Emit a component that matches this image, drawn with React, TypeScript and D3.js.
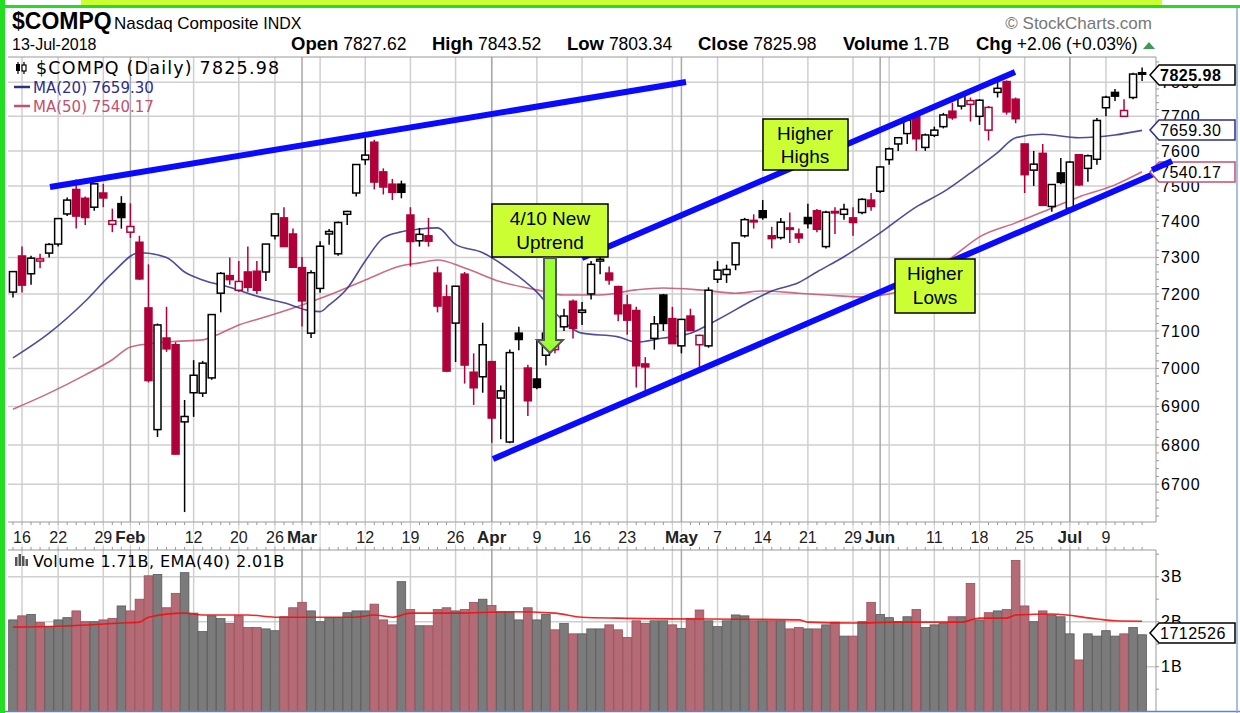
import React from 'react';
import * as d3 from 'd3';

// ---------------- DATA ----------------
const dates = [
  '2018-01-12','2018-01-16','2018-01-17','2018-01-18','2018-01-19','2018-01-22','2018-01-23','2018-01-24','2018-01-25','2018-01-26','2018-01-29','2018-01-30','2018-01-31',
  '2018-02-01','2018-02-02','2018-02-05','2018-02-06','2018-02-07','2018-02-08','2018-02-09','2018-02-12','2018-02-13','2018-02-14','2018-02-15','2018-02-16','2018-02-20','2018-02-21','2018-02-22','2018-02-23','2018-02-26','2018-02-27','2018-02-28',
  '2018-03-01','2018-03-02','2018-03-05','2018-03-06','2018-03-07','2018-03-08','2018-03-09','2018-03-12','2018-03-13','2018-03-14','2018-03-15','2018-03-16','2018-03-19','2018-03-20','2018-03-21','2018-03-22','2018-03-23','2018-03-26','2018-03-27','2018-03-28','2018-03-29',
  '2018-04-02','2018-04-03','2018-04-04','2018-04-05','2018-04-06','2018-04-09','2018-04-10','2018-04-11','2018-04-12','2018-04-13','2018-04-16','2018-04-17','2018-04-18','2018-04-19','2018-04-20','2018-04-23','2018-04-24','2018-04-25','2018-04-26','2018-04-27','2018-04-30',
  '2018-05-01','2018-05-02','2018-05-03','2018-05-04','2018-05-07','2018-05-08','2018-05-09','2018-05-10','2018-05-11','2018-05-14','2018-05-15','2018-05-16','2018-05-17','2018-05-18','2018-05-21','2018-05-22','2018-05-23','2018-05-24','2018-05-25','2018-05-29','2018-05-30','2018-05-31',
  '2018-06-01','2018-06-04','2018-06-05','2018-06-06','2018-06-07','2018-06-08','2018-06-11','2018-06-12','2018-06-13','2018-06-14','2018-06-15','2018-06-18','2018-06-19','2018-06-20','2018-06-21','2018-06-22','2018-06-25','2018-06-26','2018-06-27','2018-06-28','2018-06-29',
  '2018-07-02','2018-07-03','2018-07-05','2018-07-06','2018-07-09','2018-07-10','2018-07-11','2018-07-12','2018-07-13',
];
const opens = [
  7205,7304,7255,7290,7312,7337,7421,7490,7465,7440,7480,7392,7450,
  7370,7342,7162,6840,7081,7063,6860,6936,6935,6975,7202,7250,7210,7260,7262,7260,7360,7410,7365,
  7272,7094,7215,7365,7310,7420,7480,7575,7625,7540,7505,7505,7418,7346,7360,7257,7192,7121,7254,6990,6978,
  7018,6922,6808,7094,7001,6972,7035,7050,7111,7180,7150,7200,7290,7257,7220,7170,7155,7012,7080,7197,7133,
  7060,7140,7063,7060,7240,7253,7280,7360,7400,7430,7360,7355,7380,7365,7411,7430,7330,7428,7420,7410,7425,7460,
  7485,7575,7620,7650,7700,7610,7645,7670,7715,7730,7735,7700,7660,7770,7802,7750,7620,7545,7593,7442,7537,
  7437,7589,7550,7576,7725,7770,7700,7755,7828,
];
const highs = [
  7262,7330,7305,7310,7340,7410,7467,7518,7470,7506,7506,7436,7471,
  7451,7360,7281,7120,7165,7070,6917,7022,7020,7145,7260,7300,7290,7330,7290,7337,7422,7440,7380,
  7301,7265,7345,7379,7400,7430,7561,7637,7632,7550,7520,7515,7440,7382,7410,7275,7225,7222,7260,7040,7122,
  7018,6955,7050,7111,7010,7076,7112,7110,7160,7185,7178,7290,7310,7275,7222,7198,7165,7030,7140,7200,7165,
  7131,7160,7090,7218,7290,7280,7342,7410,7420,7460,7385,7410,7425,7380,7450,7435,7430,7440,7450,7440,7465,7480,
  7556,7610,7640,7695,7702,7650,7670,7710,7740,7765,7755,7750,7730,7806,7805,7755,7620,7600,7620,7505,7580,
  7570,7590,7590,7695,7760,7780,7750,7828,7843.52,
];
const lows = [
  7190,7204,7225,7270,7300,7330,7415,7380,7390,7430,7440,7370,7380,
  7354,7238,6963,6821,7044,6776,6630,6873,6925,6970,7150,7225,7205,7206,7200,7235,7350,7330,7273,
  7112,7081,7203,7335,7305,7390,7470,7560,7490,7476,7460,7465,7275,7330,7330,7150,6990,7017,6960,6904,6936,
  6806,6815,6805,7048,6875,6945,7008,7040,7100,7080,7116,7185,7254,7225,7126,7090,6950,6940,7050,7100,7065,
  7040,7100,7000,7055,7230,7230,7265,7355,7380,7405,7325,7350,7340,7340,7380,7370,7325,7365,7405,7360,7420,7430,
  7480,7560,7600,7620,7600,7600,7640,7665,7690,7720,7685,7675,7630,7755,7705,7680,7480,7500,7445,7427,7505,
  7430,7500,7512,7560,7700,7745,7700,7750,7803.34,
];
const closes = [
  7261,7224,7298,7296,7336,7408,7460,7415,7411,7506,7466,7402,7411,
  7386,7241,6968,7116,7052,6777,6874,6982,7014,7144,7256,7239,7234,7218,7210,7337,7421,7330,7273,
  7181,7258,7331,7372,7397,7428,7561,7588,7511,7497,7482,7482,7344,7364,7345,7167,6993,7221,7009,6949,7063,
  6870,6941,7042,7077,6915,6950,7094,7069,7140,7107,7156,7281,7295,7238,7146,7129,7007,7004,7119,7120,7066,
  7131,7101,7088,7210,7265,7267,7340,7405,7403,7411,7352,7398,7382,7354,7394,7378,7426,7424,7434,7397,7462,7442,
  7554,7606,7638,7689,7635,7646,7660,7704,7696,7761,7746,7747,7726,7782,7713,7693,7532,7562,7445,7504,7510,
  7568,7503,7586,7688,7756,7759,7717,7824,7825.98,
];
// volume in billions
const volumes = [
  2.04,2.13,2.16,1.98,1.89,2.04,2.09,2.24,2.00,2.00,2.04,2.07,2.35,
  2.24,2.50,3.02,3.05,2.31,2.63,3.09,2.19,1.78,2.13,2.07,1.96,2.13,1.87,1.87,1.84,1.80,2.11,2.31,
  2.43,2.24,2.00,2.09,2.09,2.20,2.24,2.24,2.39,2.04,1.93,2.89,2.27,1.91,1.91,2.27,2.31,2.24,2.27,2.43,2.50,
  2.36,2.22,2.21,2.04,2.31,2.04,2.16,1.82,1.96,1.73,1.73,1.84,1.84,1.93,1.82,1.65,2.02,1.96,2.02,2.02,1.93,
  1.85,2.07,2.26,2.02,1.89,2.02,2.15,2.13,2.02,2.02,2.02,2.02,1.84,1.87,1.84,1.84,1.93,1.99,1.68,1.68,2.00,2.43,
  2.16,2.09,2.00,2.11,2.27,1.87,1.93,1.96,2.11,2.11,2.85,2.04,2.20,2.24,2.27,3.36,2.35,2.00,2.24,2.15,2.11,
  1.73,1.15,1.73,1.68,1.80,1.68,1.73,1.87,1.71,
];
// moving averages: [trading-day index (0 = Jan 16), value]
const ma20Day = [-1,3,7,10,13,16,18,20,23,26,29,32,33,34,36,38,40,42,44,46,48,51,54,57,59,62,66,68,71,74,77,81,83,86,88,91,95,99,102,105,108,110,113,117,121,124];
const ma20Val = [7028,7094,7180,7257,7313,7300,7260,7238,7218,7194,7176,7154,7152,7170,7215,7290,7354,7371,7379,7382,7336,7313,7266,7205,7149,7094,7084,7070,7081,7094,7130,7184,7208,7231,7260,7302,7368,7441,7483,7537,7595,7638,7648,7638,7646,7659.3];
const ma50Day = [-1,3,7,10,12,15,17,20,22,24,27,31,34,38,42,44,46,49,53,57,60,64,68,71,75,79,82,86,89,93,96,103,106,110,113,117,121,124];
const ma50Val = [6893,6935,6983,7023,7057,7068,7072,7076,7094,7116,7138,7170,7197,7238,7277,7285,7293,7271,7233,7211,7197,7197,7211,7216,7211,7202,7208,7202,7197,7192,7200,7301,7357,7396,7427,7469,7503,7540.17];
const emaDay = [-1,4,11,13,14,18,20,25,28,37,39,41,43,48,54,59,62,66,86,87,92,97,104,106,109,110,114,119,121,124];
const emaVal = [1.88,1.90,1.97,1.99,2.10,2.19,2.15,2.15,2.10,2.10,2.15,2.10,2.19,2.19,2.22,2.19,2.10,2.08,2.04,1.99,1.97,1.99,1.99,2.08,2.08,2.15,2.17,2.06,2.02,2.01];

const priceTicks = [6700,6800,6900,7000,7100,7200,7300,7400,7500,7600,7700,7800];
const volTicks = [1,2,3];
const volTickLabels = ['1B','2B','3B'];
const xLabelDates = ['2018-01-16','2018-01-22','2018-01-29','2018-02-01','2018-02-12','2018-02-20','2018-02-26','2018-03-01','2018-03-12','2018-03-19','2018-03-26','2018-04-02','2018-04-09','2018-04-16','2018-04-23','2018-05-01','2018-05-07','2018-05-14','2018-05-21','2018-05-29','2018-06-01','2018-06-11','2018-06-18','2018-06-25','2018-07-02','2018-07-09'];
const xLabelTexts = ['16','22','29','Feb','12','20','26','Mar','12','19','26','Apr','9','16','23','May','7','14','21','29','Jun','11','18','25','Jul','9'];
const headerLabels = ['Open','High','Low','Close','Volume','Chg'];
const headerValues = ['7827.62','7843.52','7803.34','7825.98','1.7B','+2.06 (+0.03%)'];

// ---------------- LAYOUT ----------------
const W = 1240, H = 713;
const PX0 = 8, PX1 = 1156;
const PT = 57, PB = 522;
const VT = 550, VB = 712;
const headerX = [291, 432, 567, 698, 843, 976];

const RED = '#b0003a';
const NAVY = '#2e2e8a';
const MA50C = '#c4506e';
const BLUE = '#0a0aff';
const BOXFILL = '#ccff33';

export default function App() {
  const n = dates.length;
  const idx = (k: number) => k - 1; // array position -> trading-day index (Jan 16 = 0)
  const x = d3.scaleLinear().domain([-1, 124]).range([12.97, 1142.1]);
  const y = d3.scaleLog().domain([6700, 7800]).range([484.3, 82.2]);
  const yv = d3.scaleLinear().domain([0, 3]).range([711.7, 576.7]);

  const parsed = dates.map((d) => new Date(d + 'T00:00:00Z'));
  const weekStarts: number[] = [];
  const monthStarts: number[] = [];
  for (let k = 1; k < n; k++) {
    if (parsed[k].getUTCMonth() !== parsed[k - 1].getUTCMonth()) monthStarts.push(k);
    if (parsed[k].getUTCDay() < parsed[k - 1].getUTCDay() || (parsed[k].getTime() - parsed[k - 1].getTime()) > 3 * 86400000 || k === 1) weekStarts.push(k);
  }

  const ma20Line = d3.line<number>().x((_, j) => x(ma20Day[j])).y((v) => y(v)).curve(d3.curveMonotoneX)(ma20Val) || '';
  const ma50Line = d3.line<number>().x((_, j) => x(ma50Day[j])).y((v) => y(v)).curve(d3.curveMonotoneX)(ma50Val) || '';
  const emaLine = d3.line<number>().x((_, j) => x(emaDay[j])).y((v) => yv(v)).curve(d3.curveMonotoneX)(emaVal) || '';

  const font = "'Liberation Sans', Arial, sans-serif";
  const vfont = "'DejaVu Sans', Verdana, sans-serif";

  const labelBox = (yc: number, text: string, stroke: string, bold: boolean, x0 = 1150, x1 = 1235) => (
    <g>
      <path d={`M${x0},${yc} L${x0 + 9},${yc - 10} L${x1},${yc - 10} L${x1},${yc + 10} L${x0 + 9},${yc + 10} Z`} fill="#fff" stroke={stroke} strokeWidth={1.5} />
      <text x={x0 + 10} y={yc} dy="0.36em" fontFamily={font} fontSize={16} fontWeight={bold ? 'bold' : 'normal'} letterSpacing={0.5} fill="#000">{text}</text>
    </g>
  );

  return (
    <svg width={W} height={H} style={{ position: 'absolute', left: 0, top: 0, background: '#fff' }} xmlns="http://www.w3.org/2000/svg">
      <defs>
        <clipPath id="pclip"><rect x={PX0} y={PT} width={PX1 - PX0} height={PB - PT} /></clipPath>
        <clipPath id="vclip"><rect x={PX0} y={VT} width={PX1 - PX0} height={VB - VT} /></clipPath>
      </defs>
      <rect x={0} y={0} width={W} height={H} fill="#fff" />

      {/* header */}
      <text x={12} y={29} fontFamily={font} fontSize={23} fontWeight="bold">$COMPQ</text>
      <text x={114} y={29} fontFamily={font} fontSize={17}>Nasdaq Composite <tspan fontSize={16}>INDX</tspan></text>
      <text x={12} y={50} fontFamily={font} fontSize={16}>13-Jul-2018</text>
      <text x={1152} y={29} fontFamily={font} fontSize={17} fill="#777" textAnchor="end">© StockCharts.com</text>
      {headerLabels.map((lab, j) => (
        <text key={'h' + j} x={headerX[j]} y={50} fontFamily={font} fontSize={17.5}>
          <tspan fontWeight="bold" fontSize={18.5}>{lab}</tspan> {headerValues[j]}
        </text>
      ))}
      <path d="M1143,49 L1149,42 L1155,49 Z" fill="#3f9a55" />

      {/* price panel grid */}
      <g clipPath="url(#pclip)">
        {priceTicks.map((p) => (
          <line key={p} x1={PX0} x2={PX1} y1={y(p)} y2={y(p)} stroke="#cfcfcf" strokeWidth={1.5} />
        ))}
        {weekStarts.map((k) => (
          <line key={'w' + k} x1={x(idx(k))} x2={x(idx(k))} y1={PT} y2={PB} stroke="#cfcfcf" strokeWidth={1.5} />
        ))}
        {monthStarts.map((k) => (
          <line key={'m' + k} x1={x(idx(k))} x2={x(idx(k))} y1={PT} y2={PB} stroke="#a8a8a8" strokeWidth={1.5} />
        ))}
      </g>
      <line x1={PX0} x2={PX1} y1={PT} y2={PT} stroke="#999" />
      <line x1={PX0} x2={PX1} y1={PB} y2={PB} stroke="#999" />
      <line x1={PX1} x2={PX1} y1={PT} y2={PB} stroke="#999" />
      {d3.range(6620, 7880, 20).map((p) => (
        <line key={'mt' + p} x1={PX1} x2={PX1 + 3} y1={y(p)} y2={y(p)} stroke="#999" />
      ))}
      {priceTicks.map((p) => (
        <text key={'pl' + p} x={1161} y={y(p)} dy="0.36em" fontFamily={font} fontSize={16} letterSpacing={1}>{p}</text>
      ))}

      {/* moving averages and candles */}
      <g clipPath="url(#pclip)">
        <path d={ma50Line} fill="none" stroke={MA50C} strokeWidth={1.6} strokeOpacity={0.85} />
        <path d={ma20Line} fill="none" stroke={NAVY} strokeWidth={1.6} strokeOpacity={0.85} />
        {dates.map((d, k) => {
          const o = opens[k], h = highs[k], l = lows[k], c = closes[k];
          const prev = k > 0 ? closes[k - 1] : c - 1;
          const col = c >= prev ? '#000' : RED;
          const hollow = c >= o;
          const cx = x(idx(k));
          const top = y(Math.max(o, c));
          const bh = Math.max(1.5, Math.abs(y(o) - y(c)));
          return (
            <g key={d}>
              <line x1={cx} x2={cx} y1={y(h)} y2={y(l)} stroke={col} strokeWidth={1.5} />
              <rect x={cx - 3.5} y={top} width={7} height={bh} fill={hollow ? '#fff' : col} stroke={col} strokeWidth={1.5} />
            </g>
          );
        })}
      </g>

      {/* legend */}
      <g fontFamily={vfont}>
        <g>
          <line x1={18} x2={18} y1={62} y2={74} stroke="#000" strokeWidth={1.2} />
          <rect x={16} y={64} width={4} height={7} fill="#000" />
          <line x1={24} x2={24} y1={62} y2={74} stroke="#000" strokeWidth={1.2} />
          <rect x={22} y={65} width={4} height={6} fill="#fff" stroke="#000" strokeWidth={1.2} />
        </g>
        <text x={36} y={74} fontSize={17.5} letterSpacing={1.2}>$COMPQ (Daily) 7825.98</text>
        <line x1={14} x2={30} y1={87} y2={87} stroke={NAVY} strokeWidth={2.5} />
        <text x={33} y={93} fontSize={15} fill={NAVY}>MA(20) 7659.30</text>
        <line x1={14} x2={30} y1={106} y2={106} stroke={MA50C} strokeWidth={2.5} />
        <text x={33} y={112} fontSize={15} fill={MA50C}>MA(50) 7540.17</text>
      </g>

      {/* annotations */}
      <line x1={50} y1={187} x2={686} y2={82} stroke={BLUE} strokeWidth={6} />
      <line x1={582} y1={258} x2={1015} y2={72} stroke={BLUE} strokeWidth={6} />
      <line x1={493} y1={459} x2={1170} y2={167} stroke={BLUE} strokeWidth={6} />

      <rect x={492} y={204} width={116} height={53} fill={BOXFILL} stroke="#000" strokeWidth={1.5} />
      <text x={550} y={225} fontFamily={font} fontSize={19} textAnchor="middle">4/10 New</text>
      <text x={550} y={249} fontFamily={font} fontSize={19} textAnchor="middle">Uptrend</text>
      <path d="M544,258 L556,258 L556,340 L563,340 L550,353 L537,340 L544,340 Z" fill="#99ff33" stroke="#555" strokeWidth={2} />

      <rect x={763} y={119} width={85} height={51} fill={BOXFILL} stroke="#000" strokeWidth={1.5} />
      <text x={805} y={140} fontFamily={font} fontSize={19} textAnchor="middle">Higher</text>
      <text x={805} y={163} fontFamily={font} fontSize={19} textAnchor="middle">Highs</text>

      <rect x={895} y={259} width={80} height={54} fill={BOXFILL} stroke="#000" strokeWidth={1.5} />
      <text x={935} y={280} fontFamily={font} fontSize={19} textAnchor="middle">Higher</text>
      <text x={935} y={304} fontFamily={font} fontSize={19} textAnchor="middle">Lows</text>

      {/* right side value labels */}
      {labelBox(75, '7825.98', '#000', true)}
      {labelBox(130, '7659.30', NAVY, false)}
      {labelBox(172, '7540.17', MA50C, false)}
      <line x1={1152} y1={170} x2={1172} y2={161} stroke={BLUE} strokeWidth={6} />

      {/* x axis band */}
      {dates.map((d, k) => (
        <g key={'dt' + d}>
          <line x1={x(idx(k))} x2={x(idx(k))} y1={PB} y2={PB + 3} stroke="#999" />
          <line x1={x(idx(k))} x2={x(idx(k))} y1={VT - 3} y2={VT} stroke="#999" />
        </g>
      ))}
      {weekStarts.concat(monthStarts).map((k) => (
        <line key={'xb' + k} x1={x(idx(k))} x2={x(idx(k))} y1={PB} y2={VT} stroke="#cfcfcf" strokeWidth={1} />
      ))}
      {xLabelDates.map((d, j) => {
        const k = dates.indexOf(d);
        const bold = /[A-Za-z]/.test(xLabelTexts[j]);
        return (
          <text key={'xl' + j} x={x(idx(k))} y={543} fontFamily={font} fontSize={bold ? 17 : 16} fontWeight={bold ? 'bold' : 'normal'} textAnchor="middle" fill="#222" style={{ paintOrder: 'stroke' }} stroke="#fff" strokeWidth={3}>
            {xLabelTexts[j]}
          </text>
        );
      })}

      {/* volume panel */}
      <g clipPath="url(#vclip)">
        {volTicks.map((v) => (
          <line key={'vg' + v} x1={PX0} x2={PX1} y1={yv(v)} y2={yv(v)} stroke="#cfcfcf" strokeWidth={1.5} />
        ))}
        {weekStarts.map((k) => (
          <line key={'vw' + k} x1={x(idx(k))} x2={x(idx(k))} y1={VT} y2={VB} stroke="#cfcfcf" strokeWidth={1.5} />
        ))}
        {monthStarts.map((k) => (
          <line key={'vm' + k} x1={x(idx(k))} x2={x(idx(k))} y1={VT} y2={VB} stroke="#a8a8a8" strokeWidth={1.5} />
        ))}
        {volumes.map((v, k) => {
          const up = k === 0 ? true : closes[k] >= closes[k - 1];
          return (
            <rect key={'vb' + k} x={x(idx(k)) - 4.3} y={yv(v)} width={8.6} height={yv(0) - yv(v)} fill={up ? '#7b7b7b' : '#b36b75'} stroke={up ? '#5a5a5a' : '#a04b5a'} strokeWidth={0.8} />
          );
        })}
        <path d={emaLine} fill="none" stroke="#ee1111" strokeWidth={1.6} strokeOpacity={0.9} />
      </g>
      <line x1={PX0} x2={PX1} y1={VT} y2={VT} stroke="#999" />
      <line x1={PX1} x2={PX1} y1={VT} y2={VB} stroke="#999" />
      <line x1={0} x2={W} y1={711.5} y2={711.5} stroke="#5b86c8" strokeWidth={1.5} />
      {d3.range(0.5, 3.6, 0.5).map((v) => (
        <line key={'vmt' + v} x1={PX1} x2={PX1 + 3} y1={yv(v)} y2={yv(v)} stroke="#999" />
      ))}
      {volTicks.map((v, j) => (
        <text key={'vl' + v} x={1161} y={yv(v)} dy="0.36em" fontFamily={font} fontSize={16} letterSpacing={1}>{volTickLabels[j]}</text>
      ))}
      {labelBox(633, '1712526', '#000', false)}
      <g fontFamily={vfont}>
        <rect x={15} y={557} width={2.5} height={9} fill="#555" />
        <rect x={18.5} y={554} width={2.5} height={12} fill="#555" />
        <rect x={22} y={556} width={2.5} height={10} fill="#555" />
        <rect x={25.5} y={559} width={2.5} height={7} fill="#555" />
        <text x={33} y={567} fontSize={16} letterSpacing={0.4}>Volume 1.71B, EMA(40) 2.01B</text>
      </g>

      {/* outer frame */}
      <rect x={81} y={0} width={1081} height={5} fill="#ccff33" />
      <rect x={0} y={5} width={W} height={3} fill="#22dd22" />
      <rect x={0} y={0} width={5} height={H} fill="#22dd22" />
      <line x1={1237} x2={1237} y1={8} y2={H} stroke="#8fa8d0" strokeWidth={1.5} />
    </svg>
  );
}
